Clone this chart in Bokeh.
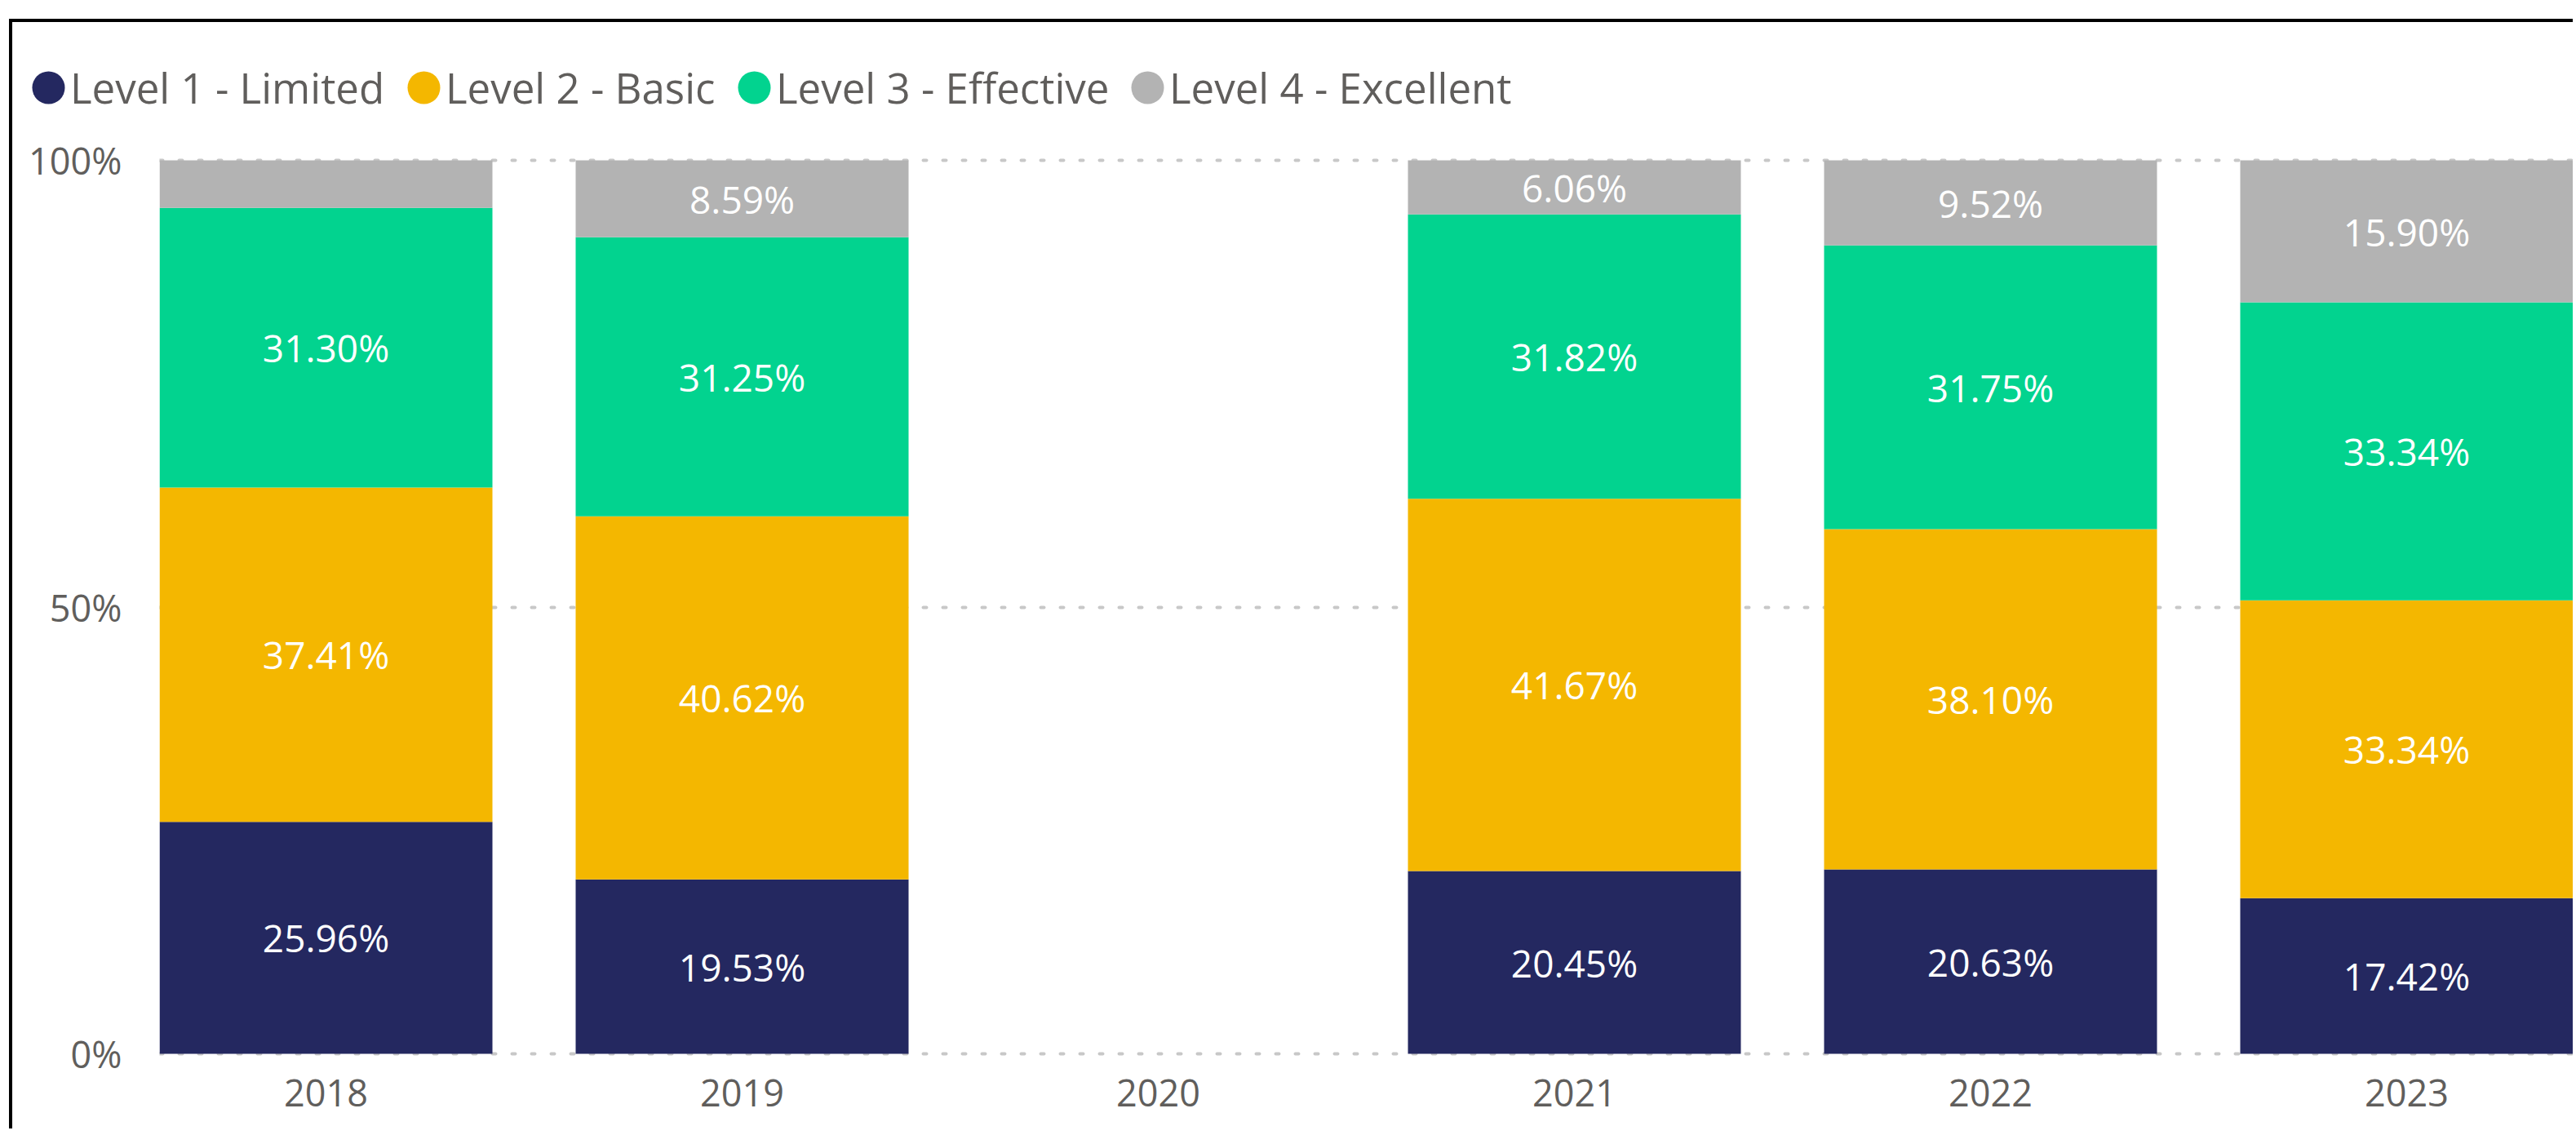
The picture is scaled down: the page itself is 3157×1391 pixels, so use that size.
from bokeh.plotting import figure
from bokeh.layouts import column, row
from bokeh.models import (ColumnDataSource, Range1d, FixedTicker, NumeralTickFormatter,
                          Legend, LegendItem, Div, Spacer)
from bokeh.core.properties import value
from bokeh.embed import file_html
from bokeh.resources import INLINE

# ---------------- data ----------------
years = ["2018", "2019", "2020", "2021", "2022", "2023"]
levels = ["Level 1 - Limited", "Level 2 - Basic", "Level 3 - Effective", "Level 4 - Excellent"]
level1 = [25.96, 19.53, 0.0, 20.45, 20.63, 17.42]
level2 = [37.41, 40.62, 0.0, 41.67, 38.10, 33.34]
level3 = [31.30, 31.25, 0.0, 31.82, 31.75, 33.34]
level4 = [5.33, 8.59, 0.0, 6.06, 9.52, 15.90]
y_ticks = [0.0, 0.5, 1.0]

colors = ["#242860", "#F4B700", "#02D38F", "#B3B3B3"]
FONT = "Open Sans"
TXT = "#605E5C"
LABEL_MIN = 6.0  # smaller segments get no data label

series = [level1, level2, level3, level4]
keys = ["l1", "l2", "l3", "l4"]
xs = list(range(len(years)))
data = {"x": xs}
for k, s in zip(keys, series):
    data[k] = [v / 100.0 for v in s]
src = ColumnDataSource(data)

lx, ly, lt = [], [], []
for i in xs:
    base = 0.0
    for s in series:
        v = s[i] / 100.0
        if s[i] >= LABEL_MIN:
            lx.append(i)
            ly.append(base + v / 2)
            lt.append(f"{s[i]:.2f}%")
        base += v
lsrc = ColumnDataSource(dict(x=lx, y=ly, t=lt))

# ---------------- layout constants ----------------
W = 3138
LH = 130                 # legend strip height
MH = 1226                # main chart height
FRAME_H = 1101
FRAME_TOP = 36
PAD = 3 / 1095           # keeps the 0% / 100% grid dots inside the frame
BORDER = 4
TOP_GAP, LEFT_GAP = 23, 11

# ---------------- legend strip ----------------
lg = figure(width=W, height=LH, output_backend="svg", toolbar_location=None,
            x_range=Range1d(0, W), y_range=Range1d(0, LH),
            x_axis_type=None, y_axis_type=None,
            min_border_left=0, min_border_right=0,
            min_border_top=0, min_border_bottom=0)
lg.frame_align = False
lg.outline_line_color = None
lg.grid.grid_line_color = None

circle_cx = [44, 504, 909, 1391]   # canvas x of legend circle centres
TEXT_GAP = 27                      # circle centre -> label origin
GB = 100
nan = float("nan")
common = dict(orientation="horizontal", padding=0, margin=0, spacing=0,
              border_line_color=None, background_fill_alpha=0)
for name, c, cx in zip(levels, colors, circle_cx):
    r = lg.scatter(x=[nan], y=[nan], marker="circle", size=40, fill_color=c, line_color=None)
    lg.add_layout(Legend(items=[LegendItem(label="", renderers=[r])],
                         location=(cx - GB / 2, 0), glyph_width=GB, glyph_height=GB,
                         label_standoff=0, label_width=0, label_text_font_size="1px",
                         **common), "center")
    lg.add_layout(Legend(items=[LegendItem(label=name, renderers=[r])],
                         location=(cx + TEXT_GAP, 0), glyph_width=0, glyph_height=GB,
                         label_standoff=0, label_text_font=FONT,
                         label_text_font_size="51px", label_text_color=TXT,
                         **common), "center")

# ---------------- main chart ----------------
p = figure(width=W, height=MH, output_backend="svg", toolbar_location=None,
           x_range=Range1d(-0.4, 5.4), y_range=Range1d(-PAD, 1 + PAD),
           min_border_left=180, min_border_right=0, min_border_top=FRAME_TOP,
           min_border_bottom=MH - FRAME_TOP - FRAME_H)
p.frame_align = False
p.outline_line_color = None

p.vbar_stack(keys, x="x", width=0.8, source=src, fill_color=colors, line_color=None)

p.text(x="x", y="y", text="t", source=lsrc, text_color="white",
       text_align="center", text_baseline="middle",
       text_font=value(FONT), text_font_size="46px")

p.xaxis.ticker = FixedTicker(ticks=xs)
p.xaxis.major_label_overrides = {i: y for i, y in zip(xs, years)}
p.yaxis.ticker = FixedTicker(ticks=y_ticks)
p.yaxis.formatter = NumeralTickFormatter(format="0%")
for ax in (p.xaxis[0], p.yaxis[0]):
    ax.axis_line_color = None
    ax.major_tick_line_color = None
    ax.minor_tick_line_color = None
    ax.major_label_text_font = FONT
    ax.major_label_text_font_size = "45px"
    ax.major_label_text_color = TXT
p.xaxis.major_label_standoff = 22
p.yaxis.major_label_standoff = 40

p.xgrid.grid_line_color = None
p.ygrid.ticker = FixedTicker(ticks=y_ticks)
p.ygrid.grid_line_color = "#C8C8C8"
p.ygrid.grid_line_width = 4
p.ygrid.grid_line_dash = "4 20"
p.ygrid.grid_line_cap = "round"

# ---------------- page frame (black top / left rules) ----------------
top_rule = Div(text="", width=W + BORDER, height=BORDER, margin=0,
               styles={"background-color": "black"})
left_rule = Div(text="", width=BORDER, height=LH + MH, margin=0,
                styles={"background-color": "black"})
body = column(top_rule, row(left_rule, column(lg, p, spacing=0), spacing=0), spacing=0)
page = column(Spacer(height=TOP_GAP, margin=0),
              row(Spacer(width=LEFT_GAP, margin=0), body, spacing=0), spacing=0)

open("out.html", "w").write(file_html(page, INLINE))
